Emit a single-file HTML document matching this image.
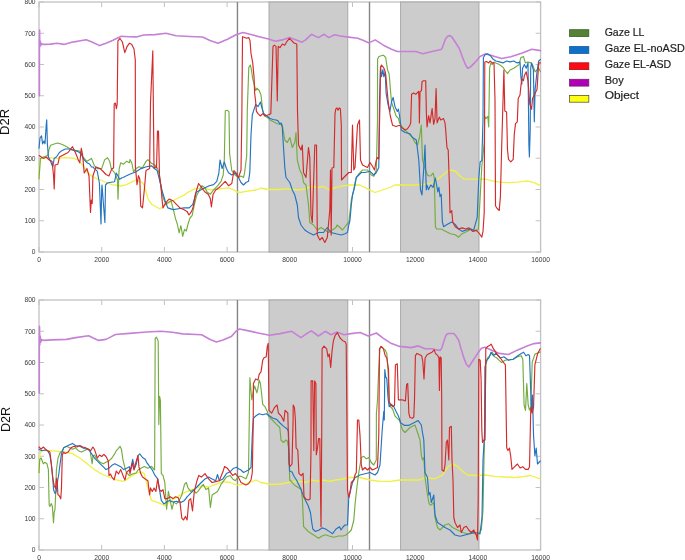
<!DOCTYPE html>
<html><head><meta charset="utf-8"><style>
html,body{margin:0;padding:0;background:#fff;width:685px;height:560px;overflow:hidden}
svg{display:block;filter:blur(0.3px)}
.tl{font-family:"Liberation Sans",sans-serif;font-size:6.7px;fill:#383838}
.yl{font-family:"Liberation Sans",sans-serif;font-size:12.6px;fill:#111}
.lg{font-family:"Liberation Sans",sans-serif;font-size:10.9px;fill:#1e1e1e;stroke:#1e1e1e;stroke-width:0.2px}
</style></head><body>
<svg width="685" height="560" viewBox="0 0 685 560">
<defs><filter id="bl" x="-5%" y="-5%" width="110%" height="110%"><feGaussianBlur stdDeviation="0.4"/></filter></defs>
<rect x="39.0" y="2.0" width="501.6" height="250.0" fill="none" stroke="#c2c2c2" stroke-width="1.3"/>
<line x1="39.00" y1="252.0" x2="39.00" y2="247.0" stroke="#c2c2c2" stroke-width="1"/>
<line x1="39.00" y1="2.0" x2="39.00" y2="7.0" stroke="#c2c2c2" stroke-width="1"/>
<text x="39.00" y="262.4" class="tl" text-anchor="middle">0</text>
<line x1="101.70" y1="252.0" x2="101.70" y2="247.0" stroke="#c2c2c2" stroke-width="1"/>
<line x1="101.70" y1="2.0" x2="101.70" y2="7.0" stroke="#c2c2c2" stroke-width="1"/>
<text x="101.70" y="262.4" class="tl" text-anchor="middle">2000</text>
<line x1="164.40" y1="252.0" x2="164.40" y2="247.0" stroke="#c2c2c2" stroke-width="1"/>
<line x1="164.40" y1="2.0" x2="164.40" y2="7.0" stroke="#c2c2c2" stroke-width="1"/>
<text x="164.40" y="262.4" class="tl" text-anchor="middle">4000</text>
<line x1="227.10" y1="252.0" x2="227.10" y2="247.0" stroke="#c2c2c2" stroke-width="1"/>
<line x1="227.10" y1="2.0" x2="227.10" y2="7.0" stroke="#c2c2c2" stroke-width="1"/>
<text x="227.10" y="262.4" class="tl" text-anchor="middle">6000</text>
<line x1="289.80" y1="252.0" x2="289.80" y2="247.0" stroke="#c2c2c2" stroke-width="1"/>
<line x1="289.80" y1="2.0" x2="289.80" y2="7.0" stroke="#c2c2c2" stroke-width="1"/>
<text x="289.80" y="262.4" class="tl" text-anchor="middle">8000</text>
<line x1="352.50" y1="252.0" x2="352.50" y2="247.0" stroke="#c2c2c2" stroke-width="1"/>
<line x1="352.50" y1="2.0" x2="352.50" y2="7.0" stroke="#c2c2c2" stroke-width="1"/>
<text x="352.50" y="262.4" class="tl" text-anchor="middle">10000</text>
<line x1="415.20" y1="252.0" x2="415.20" y2="247.0" stroke="#c2c2c2" stroke-width="1"/>
<line x1="415.20" y1="2.0" x2="415.20" y2="7.0" stroke="#c2c2c2" stroke-width="1"/>
<text x="415.20" y="262.4" class="tl" text-anchor="middle">12000</text>
<line x1="477.90" y1="252.0" x2="477.90" y2="247.0" stroke="#c2c2c2" stroke-width="1"/>
<line x1="477.90" y1="2.0" x2="477.90" y2="7.0" stroke="#c2c2c2" stroke-width="1"/>
<text x="477.90" y="262.4" class="tl" text-anchor="middle">14000</text>
<line x1="540.60" y1="252.0" x2="540.60" y2="247.0" stroke="#c2c2c2" stroke-width="1"/>
<line x1="540.60" y1="2.0" x2="540.60" y2="7.0" stroke="#c2c2c2" stroke-width="1"/>
<text x="540.60" y="262.4" class="tl" text-anchor="middle">16000</text>
<line x1="39.0" y1="252.00" x2="44.0" y2="252.00" stroke="#c2c2c2" stroke-width="1"/>
<line x1="540.6" y1="252.00" x2="535.6" y2="252.00" stroke="#c2c2c2" stroke-width="1"/>
<text x="35.6" y="254.40" class="tl" text-anchor="end">0</text>
<line x1="39.0" y1="220.75" x2="44.0" y2="220.75" stroke="#c2c2c2" stroke-width="1"/>
<line x1="540.6" y1="220.75" x2="535.6" y2="220.75" stroke="#c2c2c2" stroke-width="1"/>
<text x="35.6" y="223.15" class="tl" text-anchor="end">100</text>
<line x1="39.0" y1="189.50" x2="44.0" y2="189.50" stroke="#c2c2c2" stroke-width="1"/>
<line x1="540.6" y1="189.50" x2="535.6" y2="189.50" stroke="#c2c2c2" stroke-width="1"/>
<text x="35.6" y="191.90" class="tl" text-anchor="end">200</text>
<line x1="39.0" y1="158.25" x2="44.0" y2="158.25" stroke="#c2c2c2" stroke-width="1"/>
<line x1="540.6" y1="158.25" x2="535.6" y2="158.25" stroke="#c2c2c2" stroke-width="1"/>
<text x="35.6" y="160.65" class="tl" text-anchor="end">300</text>
<line x1="39.0" y1="127.00" x2="44.0" y2="127.00" stroke="#c2c2c2" stroke-width="1"/>
<line x1="540.6" y1="127.00" x2="535.6" y2="127.00" stroke="#c2c2c2" stroke-width="1"/>
<text x="35.6" y="129.40" class="tl" text-anchor="end">400</text>
<line x1="39.0" y1="95.75" x2="44.0" y2="95.75" stroke="#c2c2c2" stroke-width="1"/>
<line x1="540.6" y1="95.75" x2="535.6" y2="95.75" stroke="#c2c2c2" stroke-width="1"/>
<text x="35.6" y="98.15" class="tl" text-anchor="end">500</text>
<line x1="39.0" y1="64.50" x2="44.0" y2="64.50" stroke="#c2c2c2" stroke-width="1"/>
<line x1="540.6" y1="64.50" x2="535.6" y2="64.50" stroke="#c2c2c2" stroke-width="1"/>
<text x="35.6" y="66.90" class="tl" text-anchor="end">600</text>
<line x1="39.0" y1="33.25" x2="44.0" y2="33.25" stroke="#c2c2c2" stroke-width="1"/>
<line x1="540.6" y1="33.25" x2="535.6" y2="33.25" stroke="#c2c2c2" stroke-width="1"/>
<text x="35.6" y="35.65" class="tl" text-anchor="end">700</text>
<line x1="39.0" y1="2.00" x2="44.0" y2="2.00" stroke="#c2c2c2" stroke-width="1"/>
<line x1="540.6" y1="2.00" x2="535.6" y2="2.00" stroke="#c2c2c2" stroke-width="1"/>
<text x="35.6" y="4.40" class="tl" text-anchor="end">800</text>
<rect x="269.0" y="2.0" width="78.80000000000001" height="250.0" fill="#cccccc" stroke="#a4a4a4" stroke-width="0.9"/>
<rect x="400.6" y="2.0" width="78.39999999999998" height="250.0" fill="#cccccc" stroke="#a4a4a4" stroke-width="0.9"/>
<line x1="237.45" y1="2.0" x2="237.45" y2="252.0" stroke="#858585" stroke-width="1.4"/>
<line x1="369.5" y1="2.0" x2="369.5" y2="252.0" stroke="#858585" stroke-width="1.4"/>
<g filter="url(#bl)">
<polyline points="39.4,95.8 39.4,44.0 39.6,30.0 39.8,47.0 40.2,41.0 40.8,45.5 41.5,43.5 43.0,44.4 45.3,44.4 50.3,44.1 57.0,43.2 64.0,44.4 71.7,42.3 75.7,41.6 78.9,41.0 86.2,39.7 92.0,42.0 99.6,45.6 106.0,43.2 113.0,40.2 121.3,36.2 128.9,36.8 136.5,36.9 143.5,35.0 155.0,34.6 166.0,33.3 176.0,35.8 190.0,36.5 202.5,37.0 210.0,40.5 218.0,43.3 227.5,39.3 236.0,34.8 243.0,32.5 250.0,34.3 259.2,36.7 268.5,39.0 275.4,41.3 282.4,39.9 289.4,37.6 296.3,39.9 302.0,42.2 305.6,39.9 311.4,34.3 318.4,37.6 324.2,34.3 328.8,37.6 334.6,34.8 340.4,36.0 348.6,37.1 357.8,38.3 363.6,40.6 369.0,42.9 375.2,39.9 383.4,45.2 391.5,49.2 397.3,51.5 406.6,51.5 415.8,51.5 422.8,53.8 432.0,51.5 441.2,49.5 442.4,47.3 445.6,38.8 448.0,36.0 450.0,35.6 452.0,37.2 456.0,43.3 459.3,48.5 462.5,57.3 465.7,65.3 467.7,68.2 470.5,66.9 474.5,62.9 480.0,56.5 485.8,53.8 492.3,55.7 501.6,58.5 510.8,56.8 522.4,52.9 531.7,49.2 540.5,50.6" fill="none" stroke="#c680d6" stroke-width="1.6" stroke-linejoin="round" stroke-linecap="round"/>
<polyline points="39.2,178.0 39.8,165.0 40.5,159.0 43.0,158.0 49.0,157.7 57.9,158.4 65.2,157.7 74.0,158.4 78.3,159.9 82.7,165.7 87.0,171.5 91.5,176.0 97.3,178.8 101.0,180.0 105.0,182.0 111.9,184.6 120.7,186.0 126.5,184.6 132.4,181.7 136.0,180.2 141.0,182.0 143.0,183.0 145.5,190.0 148.1,199.0 151.7,204.3 155.5,206.5 159.8,208.8 163.5,206.5 167.8,203.4 171.0,201.5 174.9,199.8 176.4,199.0 180.0,197.0 183.6,195.4 188.9,191.8 194.3,189.0 200.0,188.2 206.4,188.9 211.4,190.0 220.0,188.9 228.5,187.8 233.9,190.0 237.1,192.0 240.0,192.5 246.0,191.3 256.0,190.0 261.0,188.0 268.5,189.5 278.5,189.5 288.5,188.8 298.5,190.0 306.0,188.8 311.0,186.3 318.5,187.5 323.5,186.3 328.5,189.5 336.0,187.5 340.0,186.3 350.0,185.0 360.0,185.0 367.5,188.8 375.0,192.5 382.5,190.0 390.0,187.5 395.0,185.0 405.0,185.0 417.5,185.0 428.0,184.0 434.3,181.5 443.6,174.5 449.4,169.9 455.2,171.0 459.8,175.7 464.4,179.2 471.4,179.2 478.4,179.2 485.3,179.2 492.3,180.8 499.2,182.2 508.5,182.6 517.8,182.2 527.0,180.8 534.0,182.6 539.8,185.4" fill="none" stroke="#f0f044" stroke-width="1.3" stroke-linejoin="round" stroke-linecap="round"/>
<polyline points="39.0,178.8 40.4,158.4 43.3,157.0 47.7,155.5 49.0,149.6 50.6,145.3 55.0,143.8 57.9,143.0 62.3,144.5 66.7,146.7 71.0,149.6 75.4,150.4 79.8,151.0 82.7,157.0 87.0,161.3 91.5,158.4 94.4,165.7 97.3,168.6 101.7,168.6 104.6,159.9 107.5,157.7 109.7,161.3 111.2,168.6 114.8,173.0 117.5,180.0 118.0,199.2 118.8,175.0 119.2,168.6 120.7,162.8 123.6,164.2 126.5,161.3 129.4,162.8 130.0,159.6 131.8,163.0 133.6,172.0 135.4,169.0 138.9,166.8 142.5,167.7 146.0,161.4 147.9,159.6 151.4,163.2 155.0,165.0 157.7,168.6 159.5,175.7 161.3,190.0 163.0,197.0 165.7,204.3 168.4,202.5 171.0,200.7 173.8,211.4 175.5,218.6 177.3,224.0 179.1,232.9 180.9,225.7 182.7,236.4 184.5,229.3 186.3,231.0 188.0,224.0 190.0,218.0 192.1,215.6 194.3,205.0 196.4,196.0 198.6,192.0 201.8,185.7 205.0,187.8 207.1,192.0 210.3,194.2 213.6,190.0 217.8,185.7 221.0,181.4 223.2,175.0 224.3,160.0 225.3,110.7 227.5,110.3 229.0,111.8 229.6,153.5 231.8,170.7 235.0,175.0 238.5,177.5 241.0,176.0 243.5,177.5 244.6,172.8 246.7,155.7 247.3,110.0 248.8,67.3 250.4,65.0 251.4,69.6 252.7,78.9 254.0,83.5 255.7,90.5 256.9,88.2 259.2,90.5 261.0,95.0 262.0,104.4 262.7,111.4 265.0,116.0 268.5,118.3 270.0,120.0 272.0,121.0 277.3,123.8 282.3,125.0 284.8,140.0 287.3,142.5 289.8,137.5 292.3,147.5 294.8,142.5 296.0,132.5 297.3,160.0 299.8,170.0 302.3,175.0 303.5,182.5 306.0,185.0 308.5,205.0 309.8,222.5 313.5,225.0 317.3,230.0 321.0,227.5 324.8,230.0 328.5,232.5 332.3,230.0 336.0,227.5 337.0,225.0 340.0,227.5 342.5,230.0 346.3,225.0 348.8,222.5 351.3,200.0 353.8,190.0 355.0,182.5 356.3,177.5 358.8,173.8 362.5,170.0 367.5,170.0 371.3,175.0 373.8,176.3 376.3,170.0 377.5,120.0 377.6,59.2 378.7,56.8 381.0,55.7 383.4,55.2 385.7,57.5 387.5,69.6 389.2,74.2 390.3,88.2 391.5,102.0 393.8,109.0 396.1,116.0 398.4,118.3 399.6,123.0 402.5,127.5 407.5,132.5 412.5,137.5 415.0,142.5 417.5,145.0 419.5,137.5 421.3,125.0 422.5,160.0 425.0,168.7 427.5,175.0 429.0,176.0 431.0,175.7 433.1,173.0 434.3,178.0 435.4,226.7 436.6,229.0 441.2,229.0 445.9,231.4 450.5,233.7 455.2,234.8 458.6,237.2 462.1,233.7 466.8,231.4 471.4,229.0 474.9,231.4 478.4,229.0 480.2,196.6 481.8,166.4 484.2,143.2 484.8,116.4 486.0,118.6 487.8,116.4 488.7,127.0 489.6,68.2 490.9,62.9 492.3,64.6 494.0,62.0 495.8,62.9 499.4,64.6 503.0,67.3 504.8,70.0 507.5,73.6 510.1,70.0 513.7,68.2 516.4,66.4 519.0,64.6 520.9,57.5 523.5,56.6 525.3,62.9 528.0,62.0 530.7,62.9 532.5,64.6 535.1,71.8 538.7,68.2 540.5,71.8" fill="none" stroke="#74ac40" stroke-width="1.15" stroke-linejoin="round" stroke-linecap="round"/>
<polyline points="39.0,148.2 40.0,138.0 41.5,135.8 42.6,143.8 44.0,140.9 45.0,143.8 46.2,125.0 46.7,119.8 47.4,143.8 48.4,157.0 50.6,161.3 52.8,167.0 54.2,158.4 56.4,157.0 59.4,152.5 62.3,150.4 65.2,149.0 69.6,149.0 74.0,150.4 78.3,151.8 81.3,154.0 84.2,159.9 87.0,162.8 89.6,164.0 91.5,167.0 93.0,167.0 94.4,168.6 96.7,170.7 97.3,171.5 99.4,183.0 100.3,206.0 101.0,224.0 101.7,190.0 102.0,185.0 103.9,210.0 104.9,222.5 105.5,185.0 107.4,183.0 111.0,182.3 114.6,181.7 116.3,173.0 118.0,176.0 119.6,179.3 121.7,177.9 123.1,177.5 126.0,176.0 130.3,174.0 135.6,172.0 141.0,168.6 146.4,166.8 151.7,165.9 154.4,168.6 157.1,170.4 159.8,181.0 162.4,191.8 165.1,200.7 167.8,207.9 173.1,209.6 178.5,208.8 183.9,207.9 189.2,207.9 192.8,204.3 196.4,192.0 200.7,190.0 205.0,187.8 209.3,185.7 213.6,184.6 216.8,181.4 218.9,172.8 220.0,160.0 222.1,168.5 224.3,162.0 226.4,168.5 228.5,172.8 231.8,175.0 235.0,172.8 238.2,177.0 241.0,182.5 243.5,185.0 246.0,182.5 248.5,181.3 249.8,172.5 251.0,135.0 252.3,115.0 253.4,111.4 255.7,104.4 258.0,106.7 260.4,102.0 262.0,108.0 263.8,113.7 267.3,116.3 269.6,118.3 273.0,119.5 276.0,120.0 277.8,120.6 279.8,123.8 281.2,123.0 282.3,127.5 283.5,147.5 284.8,167.5 286.0,177.5 289.8,182.5 292.3,190.0 294.8,195.0 297.3,205.0 298.5,217.5 301.0,225.0 304.8,230.0 308.5,232.5 313.5,235.0 318.5,232.5 323.5,232.5 327.3,227.5 331.0,232.5 336.0,233.8 341.3,235.0 345.0,233.8 347.5,232.5 348.8,225.0 350.0,220.0 351.3,205.0 352.5,195.0 353.8,190.0 355.0,185.0 356.3,177.5 358.8,175.0 361.3,172.5 365.0,172.5 370.0,171.3 373.8,175.0 376.3,172.5 378.8,167.5 379.5,100.0 380.6,67.0 381.5,76.6 382.9,69.6 383.8,76.6 385.2,71.9 386.1,92.8 388.0,104.4 389.9,111.4 391.5,102.0 393.1,97.4 395.0,106.7 397.3,111.4 398.4,109.0 399.6,116.0 401.3,130.0 405.0,132.5 410.0,133.8 412.5,137.5 416.3,140.0 418.8,160.0 420.5,190.0 422.0,195.0 423.8,167.5 425.0,145.0 426.3,190.0 426.9,185.0 428.5,189.6 430.8,185.0 433.1,187.3 435.4,178.0 437.8,191.9 438.9,187.3 440.0,196.6 441.2,194.2 442.4,222.0 443.6,226.7 447.0,224.4 451.7,222.0 455.2,224.4 458.6,229.0 462.1,231.4 465.6,230.2 470.2,229.0 473.7,230.2 477.2,217.4 478.8,178.0 480.2,161.8 481.8,160.6 483.0,120.0 483.4,57.5 485.1,54.8 487.8,53.9 490.5,55.7 493.2,59.3 495.9,61.0 499.4,61.9 503.0,62.9 506.6,61.0 510.0,61.9 513.7,61.0 517.3,62.9 520.0,62.0 520.9,77.0 521.8,84.3 522.6,68.2 524.4,64.6 526.2,68.2 528.0,62.9 528.9,145.0 529.4,157.0 530.2,130.0 530.7,68.2 531.6,62.9 533.4,70.0 534.3,121.8 535.1,89.6 537.0,71.8 538.7,61.0 540.5,59.3" fill="none" stroke="#2474c0" stroke-width="1.15" stroke-linejoin="round" stroke-linecap="round"/>
<polyline points="39.2,155.5 43.3,158.4 46.2,157.0 49.1,159.9 52.0,161.3 53.5,175.0 54.2,189.0 55.0,165.0 57.9,164.2 59.4,157.0 62.3,155.5 65.2,154.0 68.1,152.5 72.5,146.7 75.4,152.5 78.3,159.9 79.8,162.8 81.3,148.2 82.7,155.5 84.2,173.0 87.0,168.6 89.0,176.0 90.5,212.5 91.3,200.0 92.2,203.6 92.9,176.0 95.9,167.0 100.2,168.6 103.2,171.5 106.0,174.5 109.0,175.9 111.9,168.6 113.6,168.0 114.2,104.0 115.4,103.0 116.4,108.6 117.2,104.0 117.9,40.9 120.0,38.5 122.4,42.0 124.8,52.6 127.0,46.7 129.5,43.2 131.8,44.4 134.0,49.0 135.3,60.0 135.4,166.8 137.0,184.6 138.5,175.7 139.8,179.0 140.7,206.0 142.5,207.9 144.3,190.0 146.0,170.4 149.6,168.6 150.5,102.8 152.8,50.9 154.0,168.0 155.0,166.8 156.5,168.0 157.5,131.0 158.5,131.0 159.5,175.7 161.0,186.4 162.0,199.0 163.0,207.9 164.8,204.3 167.5,200.7 169.3,199.0 172.9,200.7 176.4,204.3 180.0,207.9 183.6,209.6 187.0,211.4 189.0,215.0 191.6,211.4 193.2,207.0 195.4,194.2 198.6,183.5 201.8,187.8 205.0,192.0 208.2,194.2 210.3,198.5 211.4,207.0 213.1,194.2 215.7,190.0 218.9,187.8 222.1,184.6 225.3,181.4 228.5,185.7 231.8,183.5 233.9,170.7 236.0,172.8 238.5,177.5 241.0,170.0 241.8,120.0 242.5,36.7 244.1,37.2 246.4,38.3 248.8,37.6 250.0,40.6 251.0,53.4 252.7,62.6 254.0,76.6 254.6,92.8 255.7,102.0 256.4,111.4 258.0,113.7 260.4,116.0 262.7,113.7 265.0,116.0 268.5,114.8 270.8,113.7 273.0,46.4 274.3,45.2 276.0,46.4 277.3,101.0 278.2,46.4 280.0,47.6 282.4,44.0 284.7,45.2 287.0,41.3 289.4,38.3 291.7,40.6 294.0,43.0 296.8,44.0 297.5,111.4 298.5,145.0 301.0,150.0 302.3,145.0 303.5,172.5 306.0,177.5 308.5,147.5 309.8,157.5 311.0,215.0 312.3,222.5 314.8,145.0 316.5,145.0 317.3,235.0 319.8,240.0 322.3,237.5 324.8,242.5 327.3,237.5 329.8,210.0 330.5,170.0 331.2,235.0 332.0,168.0 333.8,167.5 335.0,113.7 335.8,109.0 337.0,107.9 338.0,110.2 339.3,107.9 340.4,109.0 341.3,125.0 341.5,180.0 343.8,177.5 346.3,175.0 348.8,172.5 351.3,172.5 352.5,125.0 353.8,170.0 355.0,167.5 357.5,125.0 359.5,120.0 360.5,160.0 362.5,165.0 365.0,166.3 367.5,167.5 370.0,162.5 372.5,166.3 374.5,170.0 376.3,160.0 377.5,157.5 378.8,158.8 380.0,100.0 380.5,67.3 381.5,65.0 383.4,67.3 384.5,69.6 385.7,74.2 386.9,88.2 388.0,99.8 389.2,109.0 390.3,116.0 392.6,125.3 396.0,126.5 399.6,125.3 402.0,127.6 405.0,130.0 407.5,128.8 410.0,125.0 410.7,122.9 411.6,94.3 413.5,93.0 415.8,94.3 418.6,91.4 419.1,100.0 419.4,122.9 420.0,91.4 421.4,90.7 422.1,81.4 423.6,80.7 425.7,80.7 426.4,114.3 427.1,127.0 428.6,115.7 430.0,122.9 432.1,108.6 433.6,124.3 435.0,118.6 436.1,88.6 437.1,122.9 439.3,117.1 440.7,120.0 443.6,118.6 445.0,122.9 445.7,130.0 446.4,140.0 447.0,147.8 448.2,150.0 449.4,185.0 450.0,212.8 451.7,210.5 452.8,222.0 455.2,226.7 458.6,229.0 462.1,227.9 465.6,229.0 469.0,227.9 472.6,231.4 476.0,230.2 479.5,233.7 481.8,237.2 483.0,231.4 484.2,212.8 484.8,62.0 486.5,61.5 488.7,62.9 490.0,61.0 492.3,62.9 494.0,62.9 495.0,100.0 495.5,205.8 496.9,208.2 499.2,210.5 500.4,196.6 501.6,150.0 503.9,70.0 504.8,111.0 506.6,112.0 507.5,150.0 508.5,159.4 510.8,161.8 513.2,159.4 514.3,134.0 515.5,123.6 517.3,121.8 518.2,98.6 520.0,95.0 520.9,86.0 521.8,79.0 523.5,80.7 524.4,75.4 526.2,71.8 528.0,80.7 529.8,104.0 531.6,109.3 532.5,98.6 534.3,95.0 537.0,89.6 538.7,62.9 540.5,62.9" fill="none" stroke="#d42a2a" stroke-width="1.15" stroke-linejoin="round" stroke-linecap="round"/>
</g>
<rect x="39.0" y="300.0" width="501.6" height="250.0" fill="none" stroke="#c2c2c2" stroke-width="1.3"/>
<line x1="39.00" y1="550.0" x2="39.00" y2="545.0" stroke="#c2c2c2" stroke-width="1"/>
<line x1="39.00" y1="300.0" x2="39.00" y2="305.0" stroke="#c2c2c2" stroke-width="1"/>
<text x="39.00" y="560.4" class="tl" text-anchor="middle">0</text>
<line x1="101.70" y1="550.0" x2="101.70" y2="545.0" stroke="#c2c2c2" stroke-width="1"/>
<line x1="101.70" y1="300.0" x2="101.70" y2="305.0" stroke="#c2c2c2" stroke-width="1"/>
<text x="101.70" y="560.4" class="tl" text-anchor="middle">2000</text>
<line x1="164.40" y1="550.0" x2="164.40" y2="545.0" stroke="#c2c2c2" stroke-width="1"/>
<line x1="164.40" y1="300.0" x2="164.40" y2="305.0" stroke="#c2c2c2" stroke-width="1"/>
<text x="164.40" y="560.4" class="tl" text-anchor="middle">4000</text>
<line x1="227.10" y1="550.0" x2="227.10" y2="545.0" stroke="#c2c2c2" stroke-width="1"/>
<line x1="227.10" y1="300.0" x2="227.10" y2="305.0" stroke="#c2c2c2" stroke-width="1"/>
<text x="227.10" y="560.4" class="tl" text-anchor="middle">6000</text>
<line x1="289.80" y1="550.0" x2="289.80" y2="545.0" stroke="#c2c2c2" stroke-width="1"/>
<line x1="289.80" y1="300.0" x2="289.80" y2="305.0" stroke="#c2c2c2" stroke-width="1"/>
<text x="289.80" y="560.4" class="tl" text-anchor="middle">8000</text>
<line x1="352.50" y1="550.0" x2="352.50" y2="545.0" stroke="#c2c2c2" stroke-width="1"/>
<line x1="352.50" y1="300.0" x2="352.50" y2="305.0" stroke="#c2c2c2" stroke-width="1"/>
<text x="352.50" y="560.4" class="tl" text-anchor="middle">10000</text>
<line x1="415.20" y1="550.0" x2="415.20" y2="545.0" stroke="#c2c2c2" stroke-width="1"/>
<line x1="415.20" y1="300.0" x2="415.20" y2="305.0" stroke="#c2c2c2" stroke-width="1"/>
<text x="415.20" y="560.4" class="tl" text-anchor="middle">12000</text>
<line x1="477.90" y1="550.0" x2="477.90" y2="545.0" stroke="#c2c2c2" stroke-width="1"/>
<line x1="477.90" y1="300.0" x2="477.90" y2="305.0" stroke="#c2c2c2" stroke-width="1"/>
<text x="477.90" y="560.4" class="tl" text-anchor="middle">14000</text>
<line x1="540.60" y1="550.0" x2="540.60" y2="545.0" stroke="#c2c2c2" stroke-width="1"/>
<line x1="540.60" y1="300.0" x2="540.60" y2="305.0" stroke="#c2c2c2" stroke-width="1"/>
<text x="540.60" y="560.4" class="tl" text-anchor="middle">16000</text>
<line x1="39.0" y1="550.00" x2="44.0" y2="550.00" stroke="#c2c2c2" stroke-width="1"/>
<line x1="540.6" y1="550.00" x2="535.6" y2="550.00" stroke="#c2c2c2" stroke-width="1"/>
<text x="35.6" y="552.40" class="tl" text-anchor="end">0</text>
<line x1="39.0" y1="518.75" x2="44.0" y2="518.75" stroke="#c2c2c2" stroke-width="1"/>
<line x1="540.6" y1="518.75" x2="535.6" y2="518.75" stroke="#c2c2c2" stroke-width="1"/>
<text x="35.6" y="521.15" class="tl" text-anchor="end">100</text>
<line x1="39.0" y1="487.50" x2="44.0" y2="487.50" stroke="#c2c2c2" stroke-width="1"/>
<line x1="540.6" y1="487.50" x2="535.6" y2="487.50" stroke="#c2c2c2" stroke-width="1"/>
<text x="35.6" y="489.90" class="tl" text-anchor="end">200</text>
<line x1="39.0" y1="456.25" x2="44.0" y2="456.25" stroke="#c2c2c2" stroke-width="1"/>
<line x1="540.6" y1="456.25" x2="535.6" y2="456.25" stroke="#c2c2c2" stroke-width="1"/>
<text x="35.6" y="458.65" class="tl" text-anchor="end">300</text>
<line x1="39.0" y1="425.00" x2="44.0" y2="425.00" stroke="#c2c2c2" stroke-width="1"/>
<line x1="540.6" y1="425.00" x2="535.6" y2="425.00" stroke="#c2c2c2" stroke-width="1"/>
<text x="35.6" y="427.40" class="tl" text-anchor="end">400</text>
<line x1="39.0" y1="393.75" x2="44.0" y2="393.75" stroke="#c2c2c2" stroke-width="1"/>
<line x1="540.6" y1="393.75" x2="535.6" y2="393.75" stroke="#c2c2c2" stroke-width="1"/>
<text x="35.6" y="396.15" class="tl" text-anchor="end">500</text>
<line x1="39.0" y1="362.50" x2="44.0" y2="362.50" stroke="#c2c2c2" stroke-width="1"/>
<line x1="540.6" y1="362.50" x2="535.6" y2="362.50" stroke="#c2c2c2" stroke-width="1"/>
<text x="35.6" y="364.90" class="tl" text-anchor="end">600</text>
<line x1="39.0" y1="331.25" x2="44.0" y2="331.25" stroke="#c2c2c2" stroke-width="1"/>
<line x1="540.6" y1="331.25" x2="535.6" y2="331.25" stroke="#c2c2c2" stroke-width="1"/>
<text x="35.6" y="333.65" class="tl" text-anchor="end">700</text>
<line x1="39.0" y1="300.00" x2="44.0" y2="300.00" stroke="#c2c2c2" stroke-width="1"/>
<line x1="540.6" y1="300.00" x2="535.6" y2="300.00" stroke="#c2c2c2" stroke-width="1"/>
<text x="35.6" y="302.40" class="tl" text-anchor="end">800</text>
<rect x="269.0" y="300.0" width="78.80000000000001" height="250.0" fill="#cccccc" stroke="#a4a4a4" stroke-width="0.9"/>
<rect x="400.6" y="300.0" width="78.39999999999998" height="250.0" fill="#cccccc" stroke="#a4a4a4" stroke-width="0.9"/>
<line x1="237.45" y1="300.0" x2="237.45" y2="550.0" stroke="#858585" stroke-width="1.4"/>
<line x1="369.5" y1="300.0" x2="369.5" y2="550.0" stroke="#858585" stroke-width="1.4"/>
<g filter="url(#bl)">
<polyline points="39.3,393.0 39.3,340.0 39.5,326.4 39.8,345.0 40.2,336.0 40.8,342.0 41.5,339.5 43.0,340.4 52.4,339.9 66.4,339.4 75.7,337.6 88.6,335.7 93.2,338.0 98.6,340.4 106.0,339.4 110.8,336.9 115.4,334.5 129.5,333.4 143.5,332.2 150.7,331.8 161.4,331.3 172.2,332.3 182.9,333.9 201.7,334.7 209.7,339.3 216.4,342.0 223.1,340.1 231.2,336.6 236.5,330.7 239.5,329.0 247.6,330.6 259.2,333.2 269.6,335.3 280.0,333.6 291.7,331.3 301.0,337.6 305.6,334.3 311.4,330.9 318.4,336.0 325.3,331.3 331.1,334.8 337.0,332.0 343.9,334.8 350.9,333.6 360.2,332.5 368.3,336.0 376.4,333.0 383.4,338.3 390.3,342.9 399.6,346.4 411.2,347.6 418.2,345.9 425.1,348.7 432.0,348.7 435.0,349.6 440.4,350.4 442.1,347.3 443.9,341.1 446.2,334.8 448.4,333.5 453.8,333.5 456.4,336.6 458.7,340.2 460.9,348.2 463.6,357.1 466.3,364.3 468.9,367.0 471.6,362.5 475.2,357.1 478.8,351.8 481.4,348.2 485.0,347.3 492.3,350.6 499.2,353.4 508.5,354.5 517.8,349.9 527.1,345.9 534.0,343.6 540.3,342.9" fill="none" stroke="#c680d6" stroke-width="1.6" stroke-linejoin="round" stroke-linecap="round"/>
<polyline points="39.2,471.0 39.8,455.0 41.0,451.0 43.0,450.7 50.6,450.7 57.9,451.4 65.2,452.1 72.5,453.6 79.8,458.0 87.1,463.8 94.4,469.6 101.7,474.0 109.0,477.0 116.3,479.9 123.6,481.3 128.0,478.4 132.4,475.5 135.4,473.6 140.7,471.8 144.3,473.6 147.9,487.9 151.4,500.4 156.8,502.1 161.3,503.9 164.8,505.7 169.3,502.1 174.6,498.6 180.0,495.0 187.1,491.4 194.3,488.8 201.4,486.0 208.6,487.0 215.7,484.3 222.9,481.6 230.0,482.5 237.1,485.2 246.0,483.8 256.0,480.0 261.0,482.5 271.0,484.5 281.0,484.0 291.0,482.0 301.0,481.3 306.0,482.5 311.0,480.0 318.5,481.3 323.5,480.0 328.5,481.3 336.0,480.0 340.0,479.5 350.0,477.5 360.0,477.5 370.0,480.0 380.0,481.3 390.0,481.3 400.0,480.0 410.0,480.0 420.0,480.0 425.0,477.5 435.0,478.8 442.5,475.0 447.5,467.5 452.5,463.8 457.5,466.3 462.5,471.3 467.5,475.0 475.0,475.5 485.0,475.0 495.0,476.3 505.0,477.0 515.0,477.5 525.0,476.3 530.0,475.5 535.0,477.0 540.0,478.8" fill="none" stroke="#f0f044" stroke-width="1.3" stroke-linejoin="round" stroke-linecap="round"/>
<polyline points="39.0,472.6 39.7,459.4 41.1,458.0 43.3,463.8 44.8,462.3 47.0,463.8 48.4,469.6 48.8,490.0 49.2,505.0 49.9,506.5 51.3,503.6 52.4,506.5 53.5,522.6 54.2,512.3 55.0,509.4 55.7,491.9 56.4,470.0 58.0,458.0 60.0,453.0 62.3,450.7 63.7,447.7 66.7,446.3 69.6,447.7 72.5,449.2 75.4,447.7 78.3,450.7 81.3,452.1 84.2,450.7 87.1,449.2 90.0,450.7 92.2,463.8 92.9,456.5 94.4,455.0 97.3,459.4 100.2,462.3 103.2,463.8 106.0,462.3 109.0,460.9 111.9,458.0 114.8,453.6 116.3,450.7 117.8,449.2 120.0,446.3 121.4,449.2 122.9,459.4 125.0,468.2 126.5,472.6 129.4,475.5 132.4,474.0 136.0,473.0 138.0,470.0 141.0,468.2 144.3,466.4 148.0,468.2 151.4,466.4 154.6,470.0 155.2,338.5 156.5,337.2 157.6,339.8 158.2,341.4 158.8,424.6 159.6,396.4 160.4,400.4 161.3,473.6 163.0,475.4 164.8,482.5 166.6,509.3 168.4,491.4 170.2,500.4 172.0,509.3 173.8,502.1 176.4,503.9 179.1,500.4 181.8,495.0 184.5,484.3 186.3,482.5 188.0,487.9 190.7,491.4 193.4,489.6 196.0,493.2 197.9,491.4 200.5,487.9 203.2,484.3 205.9,489.6 208.6,487.9 210.4,507.5 212.1,495.0 214.8,493.2 217.5,491.4 219.3,487.9 221.1,484.3 223.8,480.7 226.4,477.1 230.0,475.4 232.7,478.9 235.4,480.7 238.5,476.3 241.0,476.3 243.5,477.5 246.0,478.8 248.5,472.5 249.9,377.7 251.8,399.8 253.4,390.5 254.6,386.0 256.9,392.8 258.0,388.0 259.2,380.0 260.4,383.5 261.5,392.8 262.7,404.4 265.0,406.7 267.3,411.4 268.5,416.3 272.3,420.0 276.0,423.8 279.8,427.5 281.0,440.0 283.5,442.5 286.0,440.0 287.3,441.0 288.5,447.5 289.8,480.0 292.3,482.5 294.3,485.0 297.8,487.3 301.2,489.6 302.4,498.9 303.6,526.7 305.9,529.0 308.2,531.4 311.7,533.7 315.2,536.0 318.6,538.3 322.1,536.0 325.6,534.8 329.1,536.0 333.7,537.2 338.4,536.0 343.0,536.0 346.0,535.0 348.8,532.5 351.3,530.0 353.8,520.0 355.0,505.0 356.3,492.5 357.5,482.5 358.8,472.5 361.3,457.5 363.8,456.3 366.3,458.8 368.8,457.5 371.3,462.5 373.8,465.0 376.3,460.0 376.4,413.7 377.5,400.0 378.7,369.6 379.9,348.7 381.5,346.4 383.4,348.7 385.2,349.9 386.8,353.4 388.0,369.6 389.2,402.0 390.3,406.7 392.6,409.0 395.0,416.0 397.3,418.3 399.6,420.6 402.5,430.0 405.0,432.5 407.5,430.0 410.0,427.5 415.0,425.0 417.5,432.5 420.0,440.0 421.3,455.0 422.5,460.0 423.8,457.5 425.0,477.5 427.5,495.0 428.8,502.5 430.0,505.0 431.0,505.0 433.8,502.5 435.0,517.5 437.5,527.5 440.0,530.0 442.5,527.5 445.0,525.0 448.8,523.8 452.5,527.5 457.5,530.0 462.5,532.5 467.5,533.8 472.5,532.5 477.5,535.0 481.3,530.0 483.0,510.0 484.0,460.0 485.0,420.0 485.8,365.0 487.6,358.0 490.0,355.7 492.3,352.2 494.6,356.8 496.9,358.0 499.2,360.3 501.6,362.6 505.0,360.3 508.5,359.8 513.2,359.2 517.8,356.8 521.3,355.7 522.8,359.5 524.1,405.0 525.5,410.4 526.8,383.6 528.2,405.0 529.5,410.0 530.8,407.7 532.2,362.2 534.9,354.1 540.3,352.0" fill="none" stroke="#74ac40" stroke-width="1.15" stroke-linejoin="round" stroke-linecap="round"/>
<polyline points="39.0,449.2 41.9,450.7 44.8,450.0 47.7,450.7 49.9,455.0 51.3,463.8 52.8,478.4 53.5,489.0 54.2,491.5 55.0,493.4 55.7,493.0 56.4,490.4 57.2,484.0 57.9,478.8 58.6,475.5 60.1,463.8 61.5,453.6 63.7,447.7 66.7,446.3 69.6,444.8 72.5,443.4 75.4,445.5 79.8,446.3 84.2,448.5 88.6,449.2 91.5,453.6 94.4,458.0 97.3,460.9 100.2,463.8 103.2,466.7 106.0,469.6 109.0,468.2 111.9,465.3 114.8,463.8 117.8,465.3 120.7,466.7 123.6,469.6 126.5,468.2 129.4,466.7 130.0,471.8 132.4,460.9 132.7,459.3 134.5,468.2 136.3,464.0 138.0,455.7 139.8,453.9 142.5,457.5 145.2,459.3 147.0,462.9 149.6,466.4 152.3,470.0 155.0,475.4 157.7,478.9 159.5,489.6 161.3,500.4 163.9,503.9 166.6,502.1 169.3,500.4 172.9,502.1 176.4,501.3 179.1,502.1 181.8,502.1 184.5,500.4 187.1,496.8 190.7,493.2 194.3,489.6 197.9,486.0 201.4,482.5 205.0,478.9 208.6,477.1 212.1,478.9 215.7,480.7 217.5,474.5 219.3,480.7 222.9,478.9 226.4,473.6 230.0,471.8 233.6,468.2 237.1,467.3 238.5,468.8 241.0,470.0 243.5,472.5 246.0,471.3 248.5,470.0 251.0,467.5 252.3,435.0 253.4,418.3 255.7,416.0 259.2,413.7 262.7,414.8 266.2,413.7 269.6,416.0 273.1,418.3 276.6,419.4 280.0,423.0 283.6,426.4 287.0,428.8 288.5,431.6 289.0,454.8 289.6,471.0 292.0,472.0 294.3,476.8 296.6,480.3 298.9,485.0 301.2,489.6 303.6,496.6 305.9,501.2 308.2,505.8 310.5,512.8 311.7,522.1 312.8,529.0 315.2,531.4 318.6,530.2 322.1,527.9 325.6,529.0 329.1,531.4 332.6,533.7 336.0,529.0 339.5,526.7 341.0,530.0 343.0,527.0 345.0,525.0 347.5,525.0 348.8,497.5 350.0,492.5 352.5,482.5 355.0,477.5 357.5,476.3 360.0,475.0 365.0,473.8 370.0,472.5 375.0,475.0 377.5,472.5 380.0,465.0 382.2,430.0 383.8,411.4 384.3,420.0 384.8,369.6 385.7,376.6 386.8,378.9 388.0,397.4 389.2,406.7 391.5,404.4 393.8,406.7 396.1,411.4 398.4,416.0 400.8,423.0 404.2,425.3 408.9,425.3 413.5,423.0 418.2,420.6 421.3,425.0 422.5,432.5 423.8,440.0 425.0,472.5 427.5,477.5 428.8,495.0 430.0,492.5 431.3,502.5 433.8,495.0 435.0,515.0 437.5,522.5 441.3,525.0 445.0,527.5 450.0,530.0 455.0,535.0 460.0,536.3 465.0,535.0 470.0,533.8 475.0,532.5 480.0,533.8 482.0,517.5 483.0,460.0 484.5,435.0 484.9,367.3 486.5,360.3 488.8,358.0 491.1,352.2 493.4,355.7 495.8,353.4 498.1,355.7 500.4,358.0 503.9,356.8 508.5,360.3 513.2,359.2 517.8,355.7 521.3,353.4 523.6,352.2 525.9,355.7 528.2,354.5 529.5,355.5 530.5,385.0 531.5,411.0 532.5,395.0 533.5,434.6 534.9,456.0 536.2,448.0 537.5,464.0 540.3,461.0" fill="none" stroke="#2474c0" stroke-width="1.15" stroke-linejoin="round" stroke-linecap="round"/>
<polyline points="39.0,447.0 41.1,449.2 43.3,447.0 45.5,449.2 47.7,450.7 49.9,452.1 51.3,463.8 52.8,478.4 54.2,485.7 55.7,488.6 56.4,478.4 57.2,481.0 57.9,494.5 59.4,495.9 60.8,498.8 61.5,487.2 62.3,455.0 63.7,452.1 65.2,453.6 68.1,452.1 71.0,447.7 74.0,446.3 76.9,447.0 79.8,445.5 82.7,447.0 85.6,447.7 88.6,449.2 90.7,450.7 92.9,447.0 94.4,449.2 95.9,453.6 97.3,458.0 99.5,455.0 101.7,456.5 103.9,454.3 106.0,456.5 108.3,460.9 109.0,475.5 110.5,474.0 111.9,477.0 114.1,479.9 116.3,471.0 118.5,474.0 120.7,469.6 123.6,477.0 125.0,479.9 126.5,472.6 129.4,469.6 130.0,473.6 132.4,462.9 134.0,470.0 136.3,461.0 138.0,455.7 138.9,466.4 140.7,473.6 142.5,477.1 145.2,478.9 147.9,480.7 149.6,495.0 150.5,487.9 152.3,491.4 154.1,487.9 155.9,491.4 157.7,478.9 159.5,489.6 161.3,491.4 163.0,489.6 164.8,498.6 167.5,498.6 170.2,496.8 172.9,498.6 175.5,496.8 178.2,497.7 180.0,502.1 181.8,518.2 183.6,520.0 185.4,516.4 187.1,520.0 188.9,500.4 190.7,498.6 192.5,511.0 194.3,491.4 197.0,480.7 198.8,475.4 201.4,477.1 205.0,473.6 208.6,478.9 212.1,482.5 215.7,481.6 219.3,480.7 222.9,471.8 224.6,466.4 227.3,468.2 230.0,471.8 232.7,475.4 235.4,473.6 238.5,477.5 241.0,482.5 243.5,483.8 246.0,485.0 248.5,483.8 251.0,480.0 252.3,472.5 253.2,422.5 253.4,383.5 255.7,378.9 258.0,380.0 259.2,374.2 261.0,371.9 262.7,360.3 263.8,358.0 266.2,356.8 267.3,346.4 268.2,343.4 269.0,410.4 271.7,413.1 274.4,407.7 277.1,405.0 278.4,413.0 281.1,415.8 283.8,421.2 285.1,410.4 287.8,413.0 288.5,440.0 289.1,464.0 290.0,466.4 292.0,464.0 293.1,420.0 293.2,405.0 294.5,407.7 295.4,420.0 296.1,447.8 297.8,450.0 298.9,473.4 301.2,475.7 303.1,473.4 304.0,496.6 305.9,498.9 308.2,500.0 310.1,498.9 311.0,450.0 311.1,380.9 312.7,380.9 313.8,450.6 314.6,380.9 315.9,383.5 316.3,454.8 317.5,447.8 318.6,438.6 319.8,438.6 321.0,526.7 321.7,438.6 322.1,348.8 324.0,346.1 326.7,348.8 328.0,356.8 329.3,354.1 330.7,367.5 332.0,351.4 333.4,340.7 335.2,335.4 337.4,332.7 340.1,338.0 342.7,340.7 345.1,341.8 346.2,344.1 346.7,400.0 347.5,490.0 348.8,497.5 350.0,492.5 351.3,482.5 353.8,480.0 355.0,475.0 356.3,472.5 357.5,420.0 358.8,420.0 360.0,435.0 361.3,465.0 362.5,470.0 365.0,467.5 367.5,470.0 370.0,467.5 372.5,470.0 375.0,468.8 377.5,467.5 378.8,435.0 379.5,348.7 381.0,346.4 383.4,348.7 385.2,355.7 386.8,358.0 388.5,369.6 389.2,402.0 390.8,404.4 392.6,406.7 394.5,405.6 395.4,365.0 397.3,363.8 398.4,399.8 402.0,399.8 405.4,400.9 406.6,384.7 407.7,383.5 408.9,413.7 410.0,417.5 412.4,418.3 413.8,417.0 414.5,400.0 415.4,355.7 417.0,353.4 419.3,354.5 421.6,355.7 422.8,361.5 424.0,378.9 425.1,358.0 427.3,354.5 432.0,352.2 434.3,349.9 435.4,353.4 437.8,355.7 438.9,358.0 439.4,390.5 440.1,356.8 441.2,358.0 441.7,400.0 442.0,470.0 443.8,471.3 445.0,465.0 446.3,442.5 447.5,440.0 448.8,460.0 449.5,427.5 451.3,426.3 452.0,460.0 453.0,480.0 453.8,517.5 455.0,522.5 457.5,527.5 460.0,525.0 461.3,532.5 463.8,527.5 466.3,526.3 468.8,530.0 471.3,532.5 473.8,530.0 476.3,535.0 477.5,540.0 478.2,500.0 478.8,359.2 480.2,360.3 481.1,378.9 481.8,430.0 482.5,442.5 483.8,440.0 485.0,440.0 485.8,348.7 487.6,346.4 490.0,345.2 491.1,344.1 493.4,348.7 495.8,352.2 498.1,355.7 500.4,358.0 502.7,361.5 505.4,364.9 506.7,448.0 508.0,450.6 509.4,448.0 510.7,456.0 512.0,469.4 514.7,466.7 517.4,464.0 520.1,468.0 522.8,466.7 525.5,469.4 528.2,469.4 529.5,466.7 530.8,407.7 532.2,413.1 533.5,407.7 534.9,364.9 537.5,354.1 540.2,348.8" fill="none" stroke="#d42a2a" stroke-width="1.15" stroke-linejoin="round" stroke-linecap="round"/>
</g>
<text class="yl" style="font-size:13.1px" transform="translate(8.9,121.9) rotate(-90)" text-anchor="middle">D2R</text>
<text class="yl" transform="translate(10.4,419.4) rotate(-90)" text-anchor="middle">D2R</text>
<rect x="569.6" y="29.7" width="19.2" height="6.8" fill="#548235" stroke="#3c5f26" stroke-width="0.8"/>
<text x="604.7" y="36.4" class="lg" textLength="39.7" lengthAdjust="spacingAndGlyphs">Gaze LL</text>
<rect x="569.6" y="46.6" width="19.2" height="6.8" fill="#1070c8" stroke="#0c5aa0" stroke-width="0.8"/>
<text x="604.7" y="52.3" class="lg" textLength="80.2" lengthAdjust="spacingAndGlyphs">Gaze EL-noASD</text>
<rect x="569.6" y="62.8" width="19.2" height="6.8" fill="#ff0a14" stroke="#a81018" stroke-width="0.8"/>
<text x="604.7" y="67.9" class="lg" textLength="66.6" lengthAdjust="spacingAndGlyphs">Gaze EL-ASD</text>
<rect x="569.6" y="79.30000000000001" width="19.2" height="6.8" fill="#b000b4" stroke="#781a7a" stroke-width="0.8"/>
<text x="604.7" y="84.0" class="lg" textLength="19.0" lengthAdjust="spacingAndGlyphs">Boy</text>
<rect x="569.6" y="95.4" width="19.2" height="6.8" fill="#ffff14" stroke="#5a5a30" stroke-width="0.8"/>
<text x="604.7" y="99.3" class="lg" textLength="34.4" lengthAdjust="spacingAndGlyphs">Object</text>
</svg>
</body></html>
